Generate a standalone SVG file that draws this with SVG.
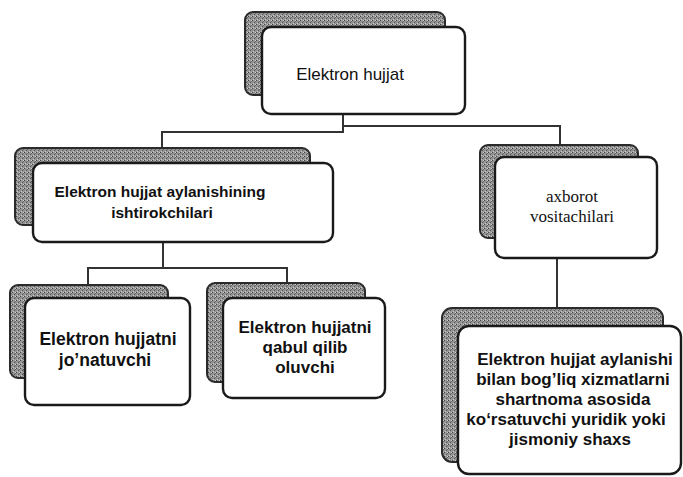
<svg xmlns="http://www.w3.org/2000/svg" width="683" height="477" viewBox="0 0 683 477">
<defs>
<pattern id="stip" width="4" height="4" patternUnits="userSpaceOnUse">
<rect width="4" height="4" fill="#959595"/>
<rect x="0" y="0" width="1" height="1" fill="#444"/>
<rect x="2" y="2" width="1" height="1" fill="#555"/>
<rect x="3" y="1" width="1" height="1" fill="#666"/>
<rect x="3" y="0" width="1" height="1" fill="#d0d0d0"/>
<rect x="1" y="3" width="1" height="1" fill="#c8c8c8"/>
</pattern>
</defs>
<style>
.sh{fill:url(#stip);stroke:#2a2a2a;stroke-width:2}
.fr{fill:#fff;stroke:#1a1a1a;stroke-width:2.4}
.c{fill:none;stroke:#333;stroke-width:2}
.t{font-family:"Liberation Sans",Arial,sans-serif;fill:#111;text-anchor:middle}
.b{font-weight:bold}
.s{font-family:"Liberation Serif","Times New Roman",serif;fill:#111;text-anchor:middle;font-size:17px}
</style>
<rect width="683" height="477" fill="#fff"/>
<g id="connectors">
<path class="c" d="M343,114 V132 H162 V148"/>
<path class="c" d="M343,126 H560 V145"/>
<path class="c" d="M163,242 V268 H88 V285"/>
<path class="c" d="M163,268 H287 V283"/>
<path class="c" d="M557,258 V308"/>
</g>
<g id="n1">
<rect class="sh" x="245" y="12" width="200" height="83" rx="8"/>
<rect class="fr" x="262" y="27" width="203" height="87" rx="9"/>
<text class="t" x="350" y="80" font-size="17">Elektron hujjat</text>
</g>
<g id="n2">
<rect class="sh" x="15" y="148" width="295" height="77" rx="8"/>
<rect class="fr" x="33" y="163" width="300" height="79" rx="9"/>
<text class="t b" font-size="15.5"><tspan x="160" y="197">Elektron hujjat aylanishining</tspan><tspan x="162" y="218">ishtirokchilari</tspan></text>
</g>
<g id="n3">
<rect class="sh" x="10" y="285" width="158" height="93" rx="8"/>
<rect class="fr" x="25" y="298" width="165" height="107" rx="9"/>
<text class="t b" font-size="17.5"><tspan x="108" y="345">Elektron hujjatni</tspan><tspan x="105" y="366">jo’natuvchi</tspan></text>
</g>
<g id="n4">
<rect class="sh" x="207" y="283" width="158" height="99" rx="8"/>
<rect class="fr" x="223" y="298" width="162" height="100" rx="9"/>
<text class="t b" font-size="17"><tspan x="305" y="333">Elektron hujjatni</tspan><tspan x="305" y="353">qabul qilib</tspan><tspan x="305" y="373">oluvchi</tspan></text>
</g>
<g id="n5">
<rect class="sh" x="480" y="145" width="158" height="93" rx="8"/>
<rect class="fr" x="495" y="157" width="162" height="101" rx="9"/>
<text class="s"><tspan x="572" y="202">axborot</tspan><tspan x="572" y="222">vositachilari</tspan></text>
</g>
<g id="n6">
<rect class="sh" x="442" y="308" width="221" height="154" rx="10"/>
<rect class="fr" x="458" y="326" width="223" height="148" rx="11"/>
<text class="t b" font-size="17"><tspan x="575" y="365">Elektron hujjat aylanishi</tspan><tspan x="573" y="385">bilan bog’liq xizmatlarni</tspan><tspan x="573" y="405">shartnoma asosida</tspan><tspan x="566" y="425">ko‘rsatuvchi yuridik yoki</tspan><tspan x="570" y="445">jismoniy shaxs</tspan></text>
</g>
</svg>
